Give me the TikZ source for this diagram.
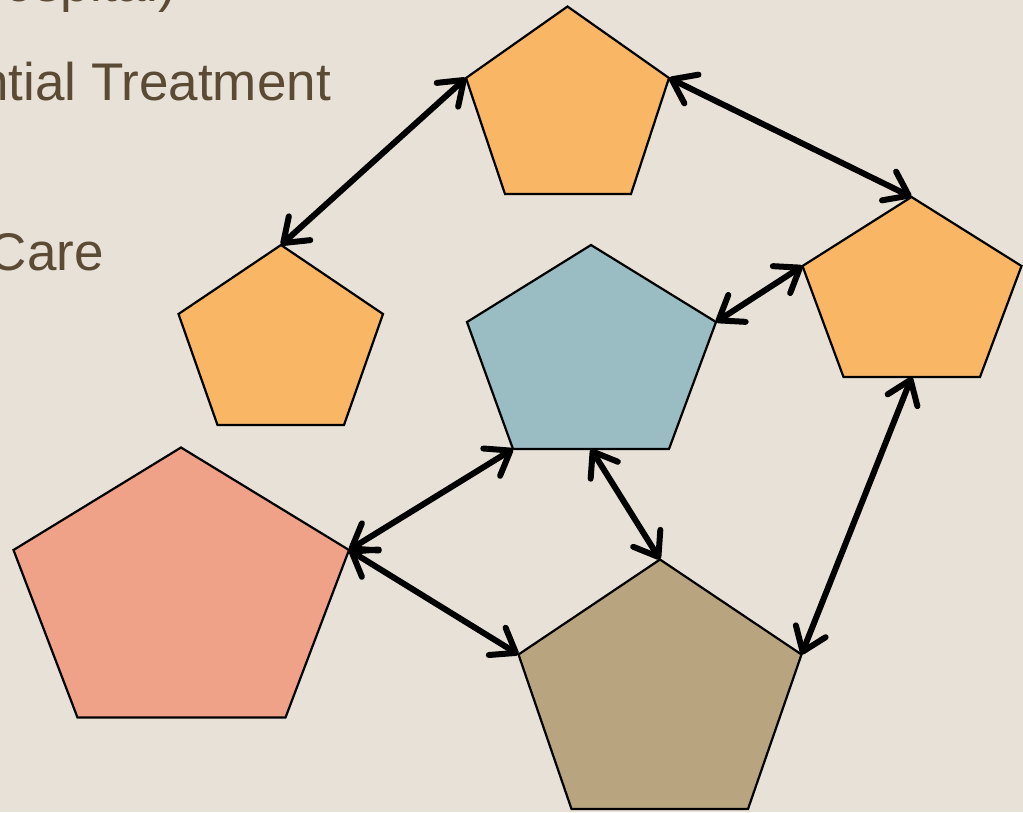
\documentclass[tikz,border=0pt]{standalone}
\usepackage{fontspec}
\setmainfont{Liberation Sans}
\usetikzlibrary{arrows.meta,calc}

\definecolor{bg}{HTML}{E7E1D7}
\definecolor{txt}{HTML}{5B4B35}
\definecolor{orangefill}{HTML}{F9B665}
\definecolor{bluefill}{HTML}{99BDC3}
\definecolor{salmonfill}{HTML}{EFA288}
\definecolor{tanfill}{HTML}{B8A47F}

\tikzset{
  pentline/.style={draw=black, line width=2.2pt, line join=miter},
  barb/.tip={Straight Barb[length=22pt,width=32pt,line width=6pt,round]},
  link/.style={line width=6pt, line cap=round, barb-barb},
  caption/.style={inner sep=0pt, text=txt, font=\fontsize{53pt}{60pt}\selectfont}
}

% pentagon from its five corners: name, fill, apex, upper left, upper right, lower right, lower left
\newcommand{\pentagonshape}[7]{%
  \coordinate (#1-a) at (#3);
  \coordinate (#1-ul) at (#4);
  \coordinate (#1-ur) at (#5);
  \coordinate (#1-br) at (#6);
  \coordinate (#1-bl) at (#7);
  \coordinate (#1-b) at ($(#1-bl)!0.5!(#1-br)$);
  \draw[pentline, fill=#2] (#1-a) -- (#1-ur) -- (#1-br) -- (#1-bl) -- (#1-ul) -- cycle;
}

\begin{document}
\begin{tikzpicture}[x=1pt, y=-1pt]
  \useasboundingbox (0,0) rectangle (1023,812);
  \clip (0,0) rectangle (1023,812);
  \fill[bg] (0,0) rectangle (1023,812);

  % list text on the left
  \node[caption, anchor=base east] (t1) at (176,1) {ospital)};
  \node[caption, anchor=base east] (t2) at (331,100) {ntial Treatment};
  \node[caption, anchor=base east] (t3) at (104,270) {Care};

  % pentagons
  \pentagonshape{top}{orangefill}{567.5,6.5}{466,78}{669,78}{631,194}{505,194}
  \pentagonshape{left}{orangefill}{281,245}{178.5,314}{383,314}{344,425}{217.5,425}
  \pentagonshape{right}{orangefill}{911.5,197}{802.5,266}{1021.5,266}{980,377}{843.5,377}
  \pentagonshape{mid}{bluefill}{591,245}{467,322}{716,322}{669,449}{513,449}
  \pentagonshape{big}{salmonfill}{181,447.5}{13.5,550}{349,550}{285.5,717.5}{77.5,717.5}
  \pentagonshape{low}{tanfill}{660,559.5}{518.5,654.5}{801.5,654.5}{748,809}{571.5,809}

  % connectors
  \draw[link] (top-ul) -- (left-a);
  \draw[link] (top-ur) -- (right-a);
  \draw[link] (mid-ur) -- (right-ul);
  \draw[link] (big-ur) -- (mid-bl);
  \draw[link] (big-ur) -- (low-ul);
  \draw[link] (mid-b) -- (low-a);
  \draw[link] (right-b) -- (low-ur);
\end{tikzpicture}
\end{document}
